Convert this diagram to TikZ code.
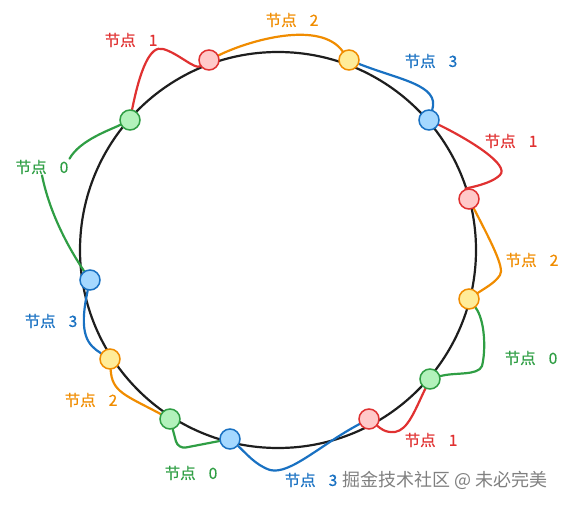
\documentclass[tikz,border=0pt]{standalone}
\usepackage{fontspec}
\newfontfamily\cjk{Noto Sans CJK SC}
\newfontfamily\cjkb[FakeBold=0.6]{Noto Sans CJK SC}
\usetikzlibrary{backgrounds}
\definecolor{cred}{HTML}{E03131}
\definecolor{fred}{HTML}{FFC9C9}
\definecolor{cora}{HTML}{F08C00}
\definecolor{fora}{HTML}{FFEC99}
\definecolor{cblu}{HTML}{1971C2}
\definecolor{fblu}{HTML}{A5D8FF}
\definecolor{cgrn}{HTML}{2F9E44}
\definecolor{fgrn}{HTML}{B2F2BB}
\definecolor{cblk}{HTML}{1E1E1E}
\tikzset{
  dot/.style={circle,draw,line width=1.5pt,minimum size=20pt,inner sep=0pt},
  rdot/.style={dot,draw=cred,fill=fred},
  odot/.style={dot,draw=cora,fill=fora},
  bdot/.style={dot,draw=cblu,fill=fblu},
  gdot/.style={dot,draw=cgrn,fill=fgrn},
  lbl/.style={font=\cjkb\fontsize{15.5}{17}\selectfont,inner sep=1pt},
  wire/.style={line width=2.2pt,line cap=round,line join=round},
}
\newcommand{\lab}[1]{节点\hspace{13pt}#1}
\begin{document}
\begin{tikzpicture}[x=1pt,y=-1pt]
\path[use as bounding box] (0,0) rectangle (570,505);
% nodes
\node[rdot] (rt) at (209,60) {};
\node[odot] (yt) at (349,60) {};
\node[bdot] (bt) at (429,120) {};
\node[rdot] (rr) at (469,199) {};
\node[odot] (yr) at (469,299) {};
\node[gdot] (gr) at (430,379) {};
\node[rdot] (rb) at (369,419) {};
\node[bdot] (bb) at (230,439) {};
\node[gdot] (gb) at (170,419) {};
\node[odot] (yl) at (110,359) {};
\node[bdot] (bl) at (90,280) {};
\node[gdot] (gtl) at (130,120) {};
% labels
\node[lbl,text=cred] (l1) at (131,40) {\lab{1}};
\node[lbl,text=cora] (l2) at (292,20) {\lab{2}};
\node[lbl,text=cblu] (l3) at (431,61) {\lab{3}};
\node[lbl,text=cred] (l4) at (511,141) {\lab{1}};
\node[lbl,text=cora] (l5) at (532,260) {\lab{2}};
\node[lbl,text=cgrn] (l6) at (531,358) {\lab{0}};
\node[lbl,text=cred] (l7) at (431,440) {\lab{1}};
\node[lbl,text=cblu] (l8) at (311,480) {\lab{3}};
\node[lbl,text=cgrn] (l9) at (191,473) {\lab{0}};
\node[lbl,text=cora] (l10) at (91,400) {\lab{2}};
\node[lbl,text=cblu] (l11) at (51,321) {\lab{3}};
\node[lbl,text=cgrn] (l12) at (42,167) {\lab{0}};
\node[font=\cjk\fontsize{18}{20}\selectfont,text=black!50,inner sep=1pt] (wm) at (445,480) {掘金技术社区 @ 未必完美};
\begin{scope}[on background layer]
\draw[line width=2.2pt,cblk] (278,250) circle[radius=198];
\draw[wire,cred] (gtl) .. controls (140,70) and (150,45) .. (163,49) .. controls (178,53) and (195,70) .. (rt);
\draw[wire,cora] (rt) .. controls (250,40) and (320,20) .. (yt);
\draw[wire,cblu] (yt) .. controls (400,80) and (440,85) .. (bt);
\draw[wire,cred] (bt) .. controls (470,140) and (510,165) .. (500,175) .. controls (490,185) and (465,188) .. (rr);
\draw[wire,cora] (rr) .. controls (490,240) and (505,268) .. (500,275) .. controls (495,283) and (485,288) .. (yr);
\draw[wire,cgrn] (yr) .. controls (485,320) and (486,350) .. (482,366) .. controls (478,376) and (455,372) .. (gr);
\draw[wire,cred] (gr) .. controls (415,410) and (408,430) .. (395,432) .. controls (385,433) and (380,428) .. (rb);
\draw[wire,cblu] (rb) .. controls (320,445) and (290,475) .. (270,470) .. controls (255,465) and (245,452) .. (bb);
\draw[wire,cgrn,rounded corners=8pt] (bb) -- (178,449) -- (gb);
\draw[wire,cora] (yl) .. controls (112,392) and (125,395) .. (gb);
\draw[wire,cblu] (yl) .. controls (88,345) and (78,335) .. (bl);
\draw[wire,cgrn] (bl) .. controls (70,250) and (50,215) .. (l12.south);
\draw[wire,cgrn] (l12.north east) .. controls (80,140) and (110,130) .. (gtl);
\end{scope}
\end{tikzpicture}
\end{document}
